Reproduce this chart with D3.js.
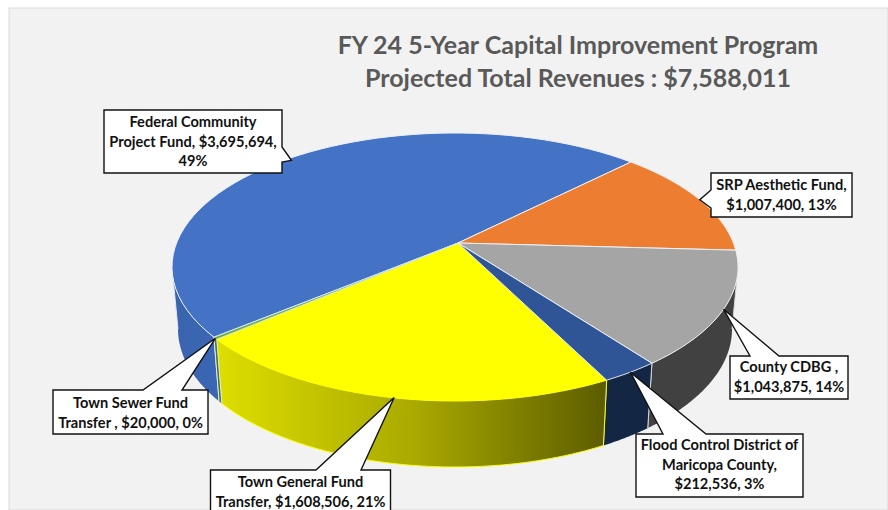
<!DOCTYPE html>
<html>
<head>
<meta charset="utf-8">
<script src="https://cdn.jsdelivr.net/npm/d3@7/dist/d3.min.js"></script>
<style>html,body{margin:0;padding:0;background:#fff;overflow:hidden}</style>
</head>
<body>
<svg id="c" width="888" height="510"></svg>
<script>
// ---- data ----
const categories = ["Federal Community Project Fund","SRP Aesthetic Fund","County CDBG","Flood Control District of Maricopa County","Town General Fund Transfer","Town Sewer Fund Transfer"];
const values = [3695694,1007400,1043875,212536,1608506,20000];
const labelLines = [
  ["Federal Community","Project Fund, $3,695,694,","49%"],
  ["SRP Aesthetic Fund,","$1,007,400, 13%"],
  ["County CDBG ,","$1,043,875, 14%"],
  ["Flood Control District of","Maricopa County,","$212,536, 3%"],
  ["Town General Fund","Transfer, $1,608,506, 21%"],
  ["Town Sewer Fund","Transfer , $20,000, 0%"]
];
const titleLines = ["FY 24 5-Year Capital Improvement Program","Projected Total Revenues : $7,588,011"];

// ---- styles ----
const topColors = ["#4472c4","#ed7d31","#a5a5a5","#2f5597","#ffff00","#70ad47"];
const topEdge = ["#eef1f6","#eef1f6","#eef1f6","#eef1f6","#ffff00","#d5e6f0"];
const paintOrder = [4,0,1,2,3,5];
const sideFill = ["url(#gBlue)","#9e5320","#414141","#132644","url(#gYellow)","#4b7530"];
const sideEdge = ["#dfe6f2","none","#d8d8d8","#d8d8d8","#ffff00","#dfe6f2"];
// callout boxes: [x, y, w, h, tail side, tail a, tail b, tip dx, tip dy, first baseline]
const boxes = [
  [104,110,178,63,"r",147,162,2,2,127],
  [711,173,141,44,"l",190,208,0,0,190],
  [730,356,118,43,"t",750,779,0,0,372],
  [636,434,167,63,"t",663,706,0,0,450],
  [210.5,470,180,44,"t",316,361,3,0,487],
  [53,390,155,44,"t",143,182,0,0,408]
];

// ---- geometry: projective view of a circular disc ----
const skew = -0.179;               // where the disc centre lands on the unit ellipse
const startDeg = 230;
const xTop = d3.scaleLinear().domain([-1,1]).range([172,738]);
const yTop = d3.scaleLinear().domain([-1,1]).range([133,401]);
const xBot = d3.scaleLinear().domain([-1,1]).range([178,732]);
const yBot = d3.scaleLinear().domain([-1,1]).range([191,467]);
const apexShiftX = 3;
function project(a){
  const x=Math.sin(a), y=-Math.cos(a), k=1+skew*y, s=Math.sqrt(1-skew*skew);
  return [x*s/k,(y+skew)/k];
}
const pie = d3.pie().sort(null).startAngle(startDeg*Math.PI/180).endAngle((startDeg+360)*Math.PI/180);
const arcs = pie(values);
const frontStart = Math.acos(skew);                 // v = 0 on the right
const frontEnd = 2*Math.PI-frontStart;              // v = 0 on the left
function samples(a0,a1){return d3.range(0,61).map(i=>a0+(a1-a0)*i/60);}
const line = d3.line();
const ptTop=a=>{const p=project(a);return [xTop(p[0]),yTop(p[1])];};
const ptBot=a=>{const p=project(a);return [xBot(p[0]),yBot(p[1])];};
const apex=[xTop(0)+apexShiftX,yTop(skew)];

const svg=d3.select("#c");
const defs=svg.append("defs");
function grad(id,stops){
  const g=defs.append("linearGradient").attr("id",id).attr("x1",0).attr("x2",1).attr("y1",0).attr("y2",0);
  stops.forEach(s=>g.append("stop").attr("offset",s[0]).attr("stop-color",s[1]));
}
grad("gYellow",[[0,"#dede00"],[0.5,"#aaaa00"],[1,"#5c5c00"]]);
grad("gBlue",[[0,"#3a64ad"],[1,"#3a66b4"]]);

// panel
svg.append("rect").attr("x",9).attr("y",8).attr("width",879).attr("height",502).attr("fill","#f2f2f2").attr("stroke","#d9d9d9").attr("stroke-width",1);

// title
svg.append("g").selectAll("text").data(titleLines).join("text")
  .attr("x",578).attr("y",(d,i)=>54+i*33)
  .attr("text-anchor","middle").attr("font-family","Lato").attr("font-weight",700)
  .attr("font-size",25).attr("fill","#595959").text(d=>d);

// sides (front only)
const sides=svg.append("g");
arcs.forEach((d,i)=>{
  const a0=d.startAngle,a1=d.endAngle;
  [0,2*Math.PI].forEach(off=>{
    const s=Math.max(a0-off,frontStart),e=Math.min(a1-off,frontEnd);
    if(e<=s) return;
    const top=samples(s,e).map(ptTop), bot=samples(s,e).map(ptBot).reverse();
    sides.append("path").attr("d",line(top.concat(bot))+"Z").attr("fill",sideFill[i]);
    if(sideEdge[i]!=="none"){
      sides.append("path").attr("d",line([ptTop(s),ptBot(s)])).attr("stroke",sideEdge[i]).attr("stroke-width",1).attr("fill","none");
      sides.append("path").attr("d",line([ptTop(e),ptBot(e)])).attr("stroke",sideEdge[i]).attr("stroke-width",1).attr("fill","none");
      if(i===4) sides.append("path").attr("d",line(bot)).attr("stroke",sideEdge[i]).attr("stroke-width",1).attr("fill","none");
    }
  });
});

// top faces
svg.append("g").selectAll("path").data(paintOrder).join("path")
  .attr("d",i=>line([apex].concat(samples(arcs[i].startAngle,arcs[i].endAngle).map(ptTop)))+"Z")
  .attr("fill",i=>topColors[i]).attr("stroke",i=>topEdge[i]).attr("stroke-width",1).attr("stroke-linejoin","round");

// callouts
const call=svg.append("g");
arcs.forEach((d,i)=>{
  const [x,y,w,h,side,p,q,dx,dy,base]=boxes[i];
  const t0=ptTop((d.startAngle+d.endAngle)/2);
  const tip=[t0[0]+dx,t0[1]+dy];
  let pts;
  if(side==="t") pts=[[x,y],[p,y],tip,[q,y],[x+w,y],[x+w,y+h],[x,y+h]];
  if(side==="r") pts=[[x,y],[x+w,y],[x+w,p],tip,[x+w,q],[x+w,y+h],[x,y+h]];
  if(side==="l") pts=[[x,y],[x+w,y],[x+w,y+h],[x,y+h],[x,q],tip,[x,p]];
  call.append("path").attr("d",line(pts)+"Z").attr("fill","#fff").attr("stroke","#111").attr("stroke-width",1.4).attr("stroke-linejoin","miter");
  labelLines[i].forEach((t,j)=>{
    call.append("text").attr("x",x+w/2).attr("y",base+j*19.5)
      .attr("text-anchor","middle").attr("font-family","Lato").attr("font-weight",700)
      .attr("font-size",14.6).attr("fill","#111").text(t);
  });
});
</script>
</body>
</html>
